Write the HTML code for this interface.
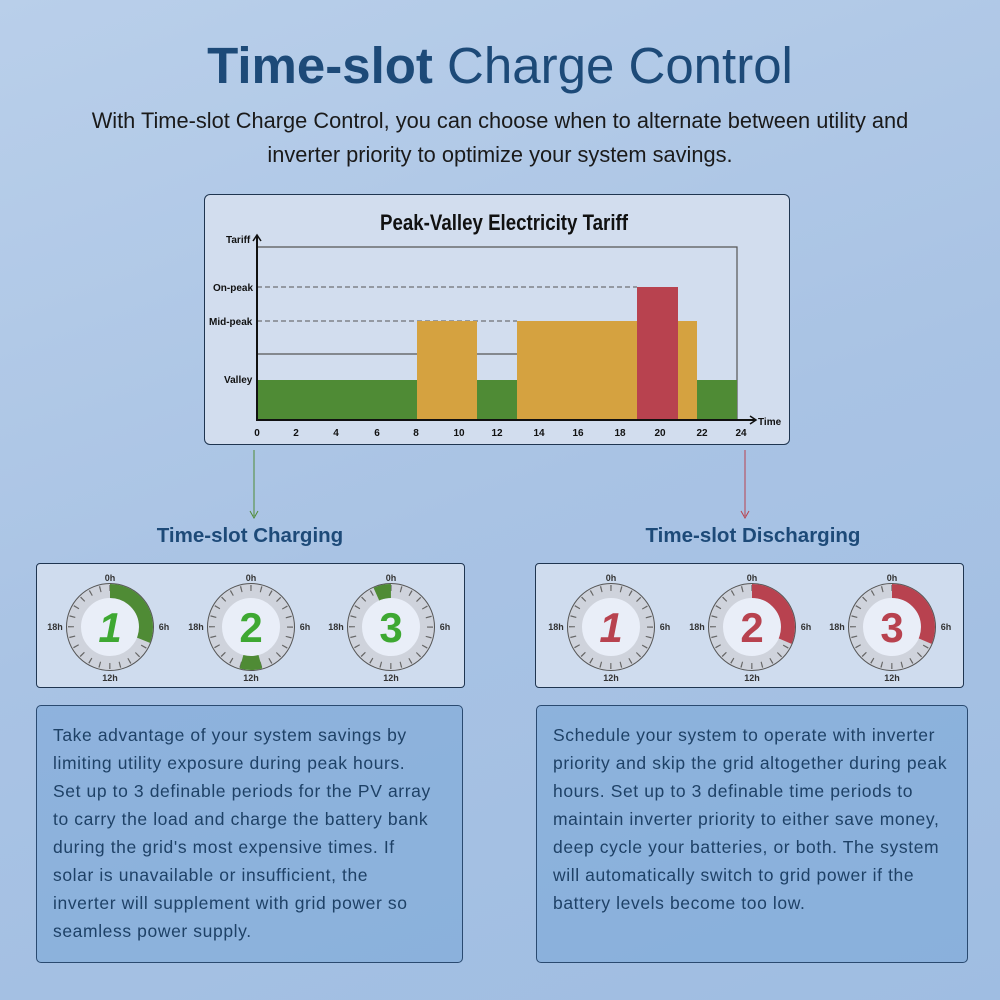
<!DOCTYPE html>
<html><head><meta charset="utf-8"><style>
body{margin:0;width:1000px;height:1000px;overflow:hidden;font-family:"Liberation Sans",sans-serif;}
.bg{position:absolute;left:0;top:0;width:1000px;height:1000px;background:linear-gradient(160deg,#b9cfea 0%,#a9c3e4 50%,#9fbde2 100%);}
.t{position:absolute;left:0;width:1000px;text-align:center;}
.box{position:absolute;border:1.5px solid #1f3550;border-radius:4px;}
.txt{position:absolute;background:rgba(120,165,215,0.55);border:1.5px solid #2a4a70;border-radius:5px;color:#1e4166;font-size:17.5px;line-height:28px;padding:15px 16px;box-sizing:border-box;letter-spacing:0.6px;white-space:nowrap;}
</style></head><body>
<div class="bg"></div>
<div class="t" style="top:36px;font-size:51px;font-weight:bold;color:#1d4a78;"><span>Time-slot</span> <span style="font-weight:normal">Charge Control</span></div>
<div class="t" style="top:104px;font-size:21.8px;color:#1a1a1a;line-height:34px;">With Time-slot Charge Control, you can choose when to alternate between utility and<br>inverter priority to optimize your system savings.</div>
<div class="box" style="left:204px;top:194px;width:584px;height:249px;background:#d2ddee;border-radius:6px;"></div>
<svg style="position:absolute;left:0;top:0" width="1000" height="1000" font-family="Liberation Sans" >
<text x="504" y="230" text-anchor="middle" font-size="22" font-weight="bold" fill="#111" transform="translate(504 0) scale(0.85 1) translate(-504 0)">Peak-Valley Electricity Tariff</text>
<polyline points="257,247 737,247 737,420" fill="none" stroke="#555" stroke-width="1.2"/>
<line x1="257" y1="354" x2="517" y2="354" stroke="#555" stroke-width="1.2"/>
<line x1="257" y1="287" x2="637" y2="287" stroke="#555" stroke-dasharray="5,3"/>
<line x1="257" y1="321" x2="517" y2="321" stroke="#555" stroke-dasharray="5,3"/>
<rect x="257" y="380" width="160" height="40" fill="#4f8b35"/>
<rect x="417" y="321" width="60" height="99" fill="#d5a240"/>
<rect x="477" y="380" width="40" height="40" fill="#4f8b35"/>
<rect x="517" y="321" width="120" height="99" fill="#d5a240"/>
<rect x="637" y="287" width="41" height="133" fill="#b8424f"/>
<rect x="678" y="321" width="19" height="99" fill="#d5a240"/>
<rect x="697" y="380" width="40" height="40" fill="#4f8b35"/>
<line x1="257" y1="236" x2="257" y2="421" stroke="#111" stroke-width="2"/>
<line x1="256" y1="420" x2="755" y2="420" stroke="#111" stroke-width="2"/>
<path d="M253,241 L257,235 L261,241 M750,416 L756,420 L750,424" fill="none" stroke="#111" stroke-width="1.5"/>
<g font-size="10" font-weight="bold" fill="#111">
<text x="226" y="243">Tariff</text>
<text x="213" y="291">On-peak</text>
<text x="209" y="325">Mid-peak</text>
<text x="224" y="383">Valley</text>
<text x="758" y="425">Time</text>
</g>
<g font-size="10" font-weight="bold" fill="#111" text-anchor="middle">
<text x="257" y="436">0</text><text x="296" y="436">2</text><text x="336" y="436">4</text><text x="377" y="436">6</text><text x="416" y="436">8</text><text x="459" y="436">10</text><text x="497" y="436">12</text><text x="539" y="436">14</text><text x="578" y="436">16</text><text x="620" y="436">18</text><text x="660" y="436">20</text><text x="702" y="436">22</text><text x="741" y="436">24</text>
</g>
<line x1="254" y1="450" x2="254" y2="516" stroke="#4f8b35"/><path d="M250,511 L254,518 L258,511" fill="none" stroke="#4f8b35"/>
<line x1="745" y1="450" x2="745" y2="516" stroke="#b8424f"/><path d="M741,511 L745,518 L749,511" fill="none" stroke="#b8424f"/>
<text x="250" y="542" text-anchor="middle" font-size="20.5" font-weight="bold" fill="#1d4a78">Time-slot Charging</text>
<text x="753" y="542" text-anchor="middle" font-size="20.5" font-weight="bold" fill="#1d4a78">Time-slot Discharging</text>
</svg>
<div class="box" style="left:36px;top:563px;width:427px;height:123px;background:#cfdcee;"></div>
<div class="box" style="left:535px;top:563px;width:427px;height:123px;background:#cfdcee;"></div>
<svg style="position:absolute;left:0;top:0" width="1000" height="1000" font-family="Liberation Sans">
<defs>
<g id="d">
<circle r="43" fill="#e9eef8" stroke="#555" stroke-width="2"/>
<circle r="36" fill="none" stroke="#cfd3dc" stroke-width="14"/>
<circle r="39" fill="none" stroke="#666" stroke-width="6" stroke-dasharray="1.2 9.01" transform="rotate(-90.9)"/>
<g font-size="9" font-weight="bold" fill="#333" text-anchor="middle">
<text y="-46">0h</text><text y="54">12h</text><text x="54" y="3">6h</text><text x="-55" y="3">18h</text></g>
</g>
</defs>
<g transform="translate(110,627)"><use href="#d"/><circle r="36" fill="none" stroke="#4f8b35" stroke-width="14" stroke-dasharray="70 300" transform="rotate(-90)"/><text y="15" text-anchor="middle" font-size="42" font-style="italic" font-weight="bold" fill="#3ea832">1</text></g>
<g transform="translate(251,627)"><use href="#d"/><circle r="36" fill="none" stroke="#4f8b35" stroke-width="14" stroke-dasharray="19 300" transform="rotate(75)"/><text y="15" text-anchor="middle" font-size="42" font-weight="bold" fill="#3ea832">2</text></g>
<g transform="translate(391,627)"><use href="#d"/><circle r="36" fill="none" stroke="#4f8b35" stroke-width="14" stroke-dasharray="15 300" transform="rotate(-114)"/><text y="15" text-anchor="middle" font-size="42" font-weight="bold" fill="#3ea832">3</text></g>
<g transform="translate(611,627)"><use href="#d"/><text y="15" text-anchor="middle" font-size="42" font-style="italic" font-weight="bold" fill="#b8424f">1</text></g>
<g transform="translate(752,627)"><use href="#d"/><circle r="36" fill="none" stroke="#b8424f" stroke-width="14" stroke-dasharray="71 300" transform="rotate(-90)"/><text y="15" text-anchor="middle" font-size="42" font-weight="bold" fill="#b8424f">2</text></g>
<g transform="translate(892,627)"><use href="#d"/><circle r="36" fill="none" stroke="#b8424f" stroke-width="14" stroke-dasharray="71 300" transform="rotate(-90)"/><text y="15" text-anchor="middle" font-size="42" font-weight="bold" fill="#b8424f">3</text></g>
</svg>
<div class="txt" style="left:36px;top:705px;width:427px;height:258px;">Take advantage of your system savings by<br>limiting utility exposure during peak hours.<br>Set up to 3 definable periods for the PV array<br>to carry the load and charge the battery bank<br>during the grid's most expensive times. If<br>solar is unavailable or insufficient, the<br>inverter will supplement with grid power so<br>seamless power supply.</div>
<div class="txt" style="left:536px;top:705px;width:432px;height:258px;">Schedule your system to operate with inverter<br>priority and skip the grid altogether during peak<br>hours. Set up to 3 definable time periods to<br>maintain inverter priority to either save money,<br>deep cycle your batteries, or both. The system<br>will automatically switch to grid power if the<br>battery levels become too low.</div>
</body></html>
